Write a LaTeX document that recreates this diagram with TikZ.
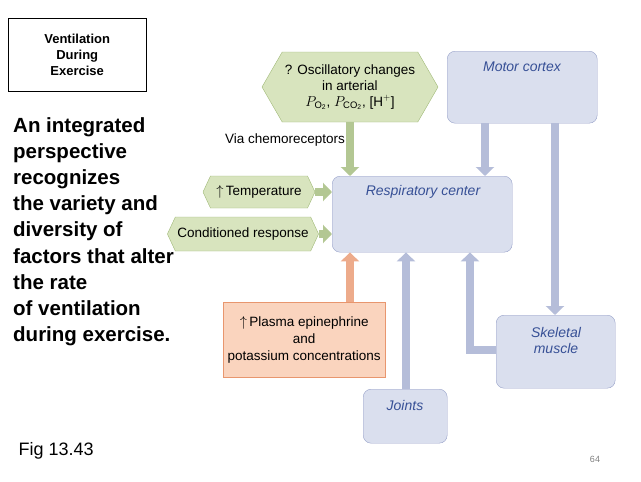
\documentclass[tikz,border=0pt]{standalone}
\usepackage{fontspec}
\setmainfont{Liberation Sans}
\usetikzlibrary{shapes.symbols, arrows.meta, positioning}
\definecolor{boxblue}{RGB}{218,223,238}
\definecolor{lineblue}{RGB}{150,160,200}
\definecolor{textblue}{RGB}{55,80,150}
\definecolor{boxgreen}{RGB}{216,228,190}
\definecolor{linegreen}{RGB}{160,185,120}
\definecolor{boxorange}{RGB}{250,212,190}
\definecolor{lineorange}{RGB}{232,150,110}
\tikzstyle{center} = [rectangle, rounded corners=8pt, draw=lineblue, fill=boxblue, anchor=north west, inner sep=3pt]
\tikzstyle{boxlabel} = [text=textblue, font=\fontsize{14}{16}\selectfont\itshape, align=center]
\tikzstyle{factor} = [signal, signal to=west and east, draw=linegreen, fill=boxgreen, font=\fontsize{13.5}{16}\selectfont, align=center, inner sep=2pt]
\tikzstyle{bluearrow} = [line width=8pt, draw=lineblue!70, -{Triangle[length=9pt,width=18pt]}]
\tikzstyle{greenarrow} = [line width=8pt, draw=linegreen!80, -{Triangle[length=9pt,width=18pt]}]
\tikzstyle{orangearrow} = [line width=8pt, draw=lineorange!80, -{Triangle[length=9pt,width=18pt]}]

\begin{document}
\begin{tikzpicture}[x=1pt, y=-1pt]
\useasboundingbox (0,0) rectangle (641,482);
% Title and side text
\node (title) [draw=black, anchor=north west, minimum width=138pt, minimum height=73pt, align=center, font=\fontsize{13}{16}\selectfont\bfseries] at (8,18) {Ventilation\\During\\Exercise};
\node (para) [anchor=north west, align=left, inner sep=0pt, font=\fontsize{20.5}{26.2}\selectfont\bfseries] at (13,117) {An integrated\\perspective\\recognizes\\the variety and\\diversity of\\factors that alter\\the rate\\of ventilation\\during exercise.};
\node (fig) [anchor=west, font=\fontsize{18}{20}\selectfont] at (15,451) {Fig 13.43};
\node (page) [font=\fontsize{9}{10}\selectfont, text=gray] at (595,459) {64};

% Boxes
\node (resp) [center, minimum width=180pt, minimum height=76pt] at (332,176) {};
\node at (423,192) [boxlabel] {Respiratory center};
\node (motor) [center, minimum width=150pt, minimum height=72pt] at (447,51) {};
\node at (522,67) [boxlabel] {Motor cortex};
\node (muscle) [center, minimum width=119pt, minimum height=73pt] at (496,315) {};
\node at (556,340) [boxlabel] {Skeletal\\muscle};
\node (joints) [center, minimum width=84pt, minimum height=54pt] at (363,389) {};
\node at (405,405) [boxlabel] {Joints};
\node (plasma) [rectangle, draw=lineorange, fill=boxorange, anchor=north west, minimum width=162pt, minimum height=75pt, align=center, font=\fontsize{13.5}{17}\selectfont] at (223,302) {$\uparrow$\,Plasma epinephrine\\and\\potassium concentrations};

% Factors
\node (osc) [factor, minimum width=176pt, minimum height=70pt, signal pointer angle=120] at (350,87) {? Oscillatory changes\\in arterial\\$P_{\mathrm{O_2}}$, $P_{\mathrm{CO_2}}$, [H$^+$]};
\node (temp) [factor, minimum width=112pt, minimum height=32pt, signal pointer angle=130] at (259,192) {$\uparrow$\,Temperature};
\node (cond) [factor, minimum width=142pt, minimum height=34pt, signal pointer angle=130] at (243,234) {Conditioned response};
\node (chemo) [font=\fontsize{13.5}{16}\selectfont] at (285,140) {Via chemoreceptors};

% Arrows
\draw [greenarrow] (osc.south) -- (resp.north -| osc.south);
\draw [greenarrow] (temp.east) -- (temp.east -| resp.west);
\draw [greenarrow] (cond.east) -- (cond.east -| resp.west);
\draw [bluearrow] (motor.south -| 485,0) -- (485,176);
\draw [bluearrow] (motor.south -| 555,0) -- (muscle.north -| 555,0);
\draw [orangearrow] (plasma.north -| 350,0) -- (resp.south -| 350,0);
\draw [bluearrow] (joints.north -| 406,0) -- (resp.south -| 406,0);
\draw [bluearrow] (muscle.west |- 0,350) -- (470,350) -- (resp.south -| 470,0);
\end{tikzpicture}
\end{document}
